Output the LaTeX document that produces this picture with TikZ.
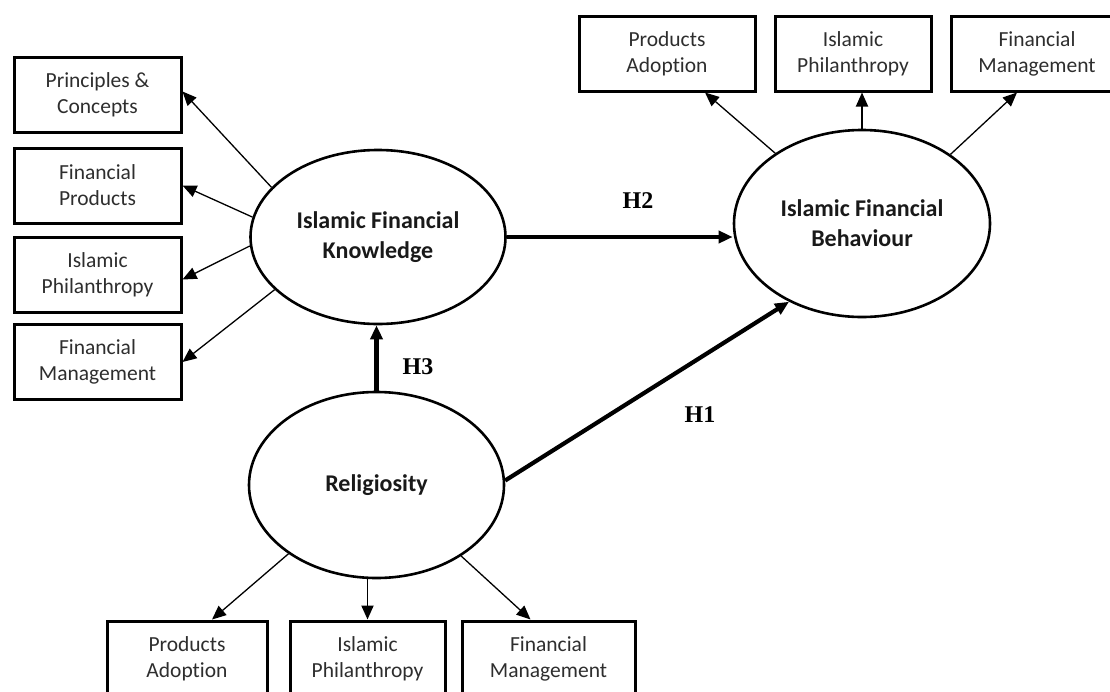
\documentclass[tikz,border=0pt]{standalone}
\usepackage{fontspec}
\setmainfont{Carlito}[Ligatures={NoCommon}]
\newfontfamily\hfont{Liberation Serif}
\usetikzlibrary{arrows.meta,shapes.geometric}
\begin{document}
\begin{tikzpicture}[x=1pt,y=-1pt,
  tipstyle/.style={-{Triangle[length=14pt,width=12pt]}},
  indbox/.style={draw, line width=3pt, inner sep=0pt, minimum height=75pt, align=center,
    font=\fontsize{21.5}{26}\selectfont, text=black!82},
  latent/.style={draw, ellipse, line width=2.6pt, inner sep=0pt, align=center,
    font=\fontsize{24}{30}\selectfont\bfseries, text=black!90},
  ind/.style={tipstyle, line width=1.3pt},
  indv/.style={tipstyle, line width=1.9pt},
  hyp/.style={tipstyle, line width=4.2pt},
  hlab/.style={font=\hfont\fontsize{24}{28}\selectfont\bfseries, inner sep=0pt}]
\clip (0,0) rectangle (1110,691);
\fill[white] (0,0) rectangle (1110,691);

% latent constructs
\node[latent, minimum width=255pt, minimum height=174pt] (ifk) at (378,237) {Islamic Financial\\Knowledge};
\node[latent, minimum width=256pt, minimum height=187pt] (ifb) at (862,223.5) {Islamic Financial\\Behaviour};
\node[latent, minimum width=255pt, minimum height=186pt] (rel) at (376.5,485) {Religiosity};

% left indicators
\node[indbox, minimum width=167pt] (k1) at (97.5,94.5) {Principles \&\\Concepts};
\node[indbox, minimum width=167pt] (k2) at (97.5,185.5) {Financial\\Products};
\node[indbox, minimum width=167pt] (k3) at (97.5,274.5) {Islamic\\Philanthropy};
\node[indbox, minimum width=167pt] (k4) at (97.5,362) {Financial\\Management};

% top indicators
\node[indbox, minimum width=176pt] (b1) at (667,53.5) {Products\\Adoption};
\node[indbox, minimum width=156pt] (b2) at (853,53.5) {Islamic\\Philanthropy};
\node[indbox, minimum width=172pt] (b3) at (1037,53.5) {Financial\\Management};

% bottom indicators
\node[indbox, minimum width=160pt] (r1) at (187,658.5) {Products\\Adoption};
\node[indbox, minimum width=155pt] (r2) at (367.5,658.5) {Islamic\\Philanthropy};
\node[indbox, minimum width=173pt] (r3) at (548.5,658.5) {Financial\\Management};

% indicator arrows
\draw[ind] (ifk.155) -- ([yshift=3pt]k1.east);
\draw[ind] (ifk.171) -- (k2.east);
\draw[ind] (ifk.184) -- ([yshift=-5pt]k3.east);
\draw[ind] (ifk.207) -- (k4.east);

\draw[ind] (ifb.141) -- ([xshift=38pt]b1.south);
\draw[indv] (ifb.north) -- (ifb.north |- b2.south);
\draw[ind] (ifb.38) -- ([xshift=-20pt]b3.south);

\draw[ind] (rel.218) -- ([xshift=25pt]r1.north);
\draw[indv] (rel.south -| r2.north) -- (r2.north);
\draw[ind] (rel.320) -- ([xshift=-18pt]r3.north);

% hypotheses
\draw[hyp] (ifk.east) -- (ifk.east -| ifb.west);
\draw[hyp] (rel.north) -- (rel.north |- ifk.south);
\draw[hyp] (rel.2) -- (ifb.227);

\node[hlab] (h2) at (638,201) {H2};
\node[hlab] (h3) at (418,367) {H3};
\node[hlab] (h1) at (700,415) {H1};
\end{tikzpicture}
\end{document}
